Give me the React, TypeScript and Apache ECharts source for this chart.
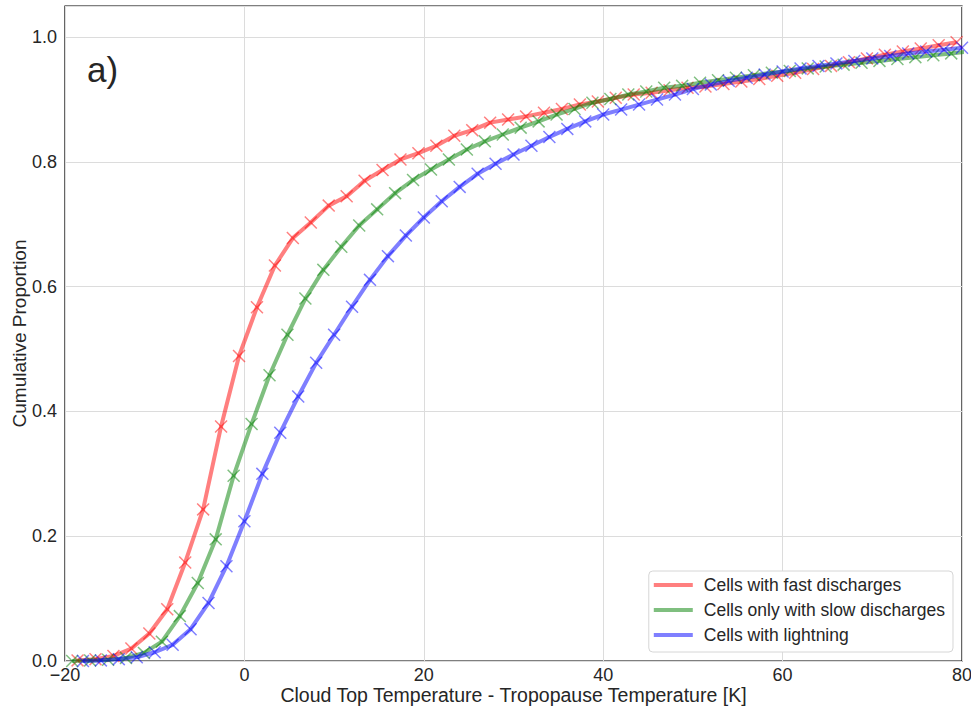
import React, { useEffect, useRef } from "react";
import * as echarts from "echarts";

const FONT = "'Liberation Sans', Arial, sans-serif";

const seriesNames = [
  "Cells with fast discharges",
  "Cells only with slow discharges",
  "Cells with lightning",
];

const fastX = [
  -18.6, -16.6, -14.6, -12.6, -10.6, -8.6, -6.6, -4.6, -2.6, -0.6, 1.4, 3.4, 5.4, 7.4, 9.4, 11.4, 13.4,
  15.4, 17.4, 19.4, 21.4, 23.4, 25.4, 27.4, 29.4, 31.4, 33.4, 35.4, 37.4, 39.4, 41.4, 43.4, 45.4, 47.4,
  49.4, 51.4, 53.4, 55.4, 57.4, 59.4, 61.4, 63.4, 65.4, 67.4, 69.4, 71.4, 73.4, 75.4, 77.4, 79.4,
];
const fastY = [
  0.001, 0.003, 0.008, 0.02, 0.044, 0.083, 0.158, 0.243, 0.376, 0.489, 0.567, 0.634, 0.678, 0.703, 0.73,
  0.745, 0.77, 0.787, 0.804, 0.814, 0.826, 0.842, 0.851, 0.863, 0.868, 0.873, 0.879, 0.885, 0.892, 0.897,
  0.903, 0.908, 0.911, 0.915, 0.919, 0.921, 0.925, 0.929, 0.933, 0.938, 0.943, 0.949, 0.954, 0.96, 0.966,
  0.972, 0.977, 0.982, 0.987, 0.992,
];

const slowX = [
  -19.2, -17.2, -15.2, -13.2, -11.2, -9.2, -7.2, -5.2, -3.2, -1.2, 0.8, 2.8, 4.8, 6.8, 8.8, 10.8, 12.8,
  14.8, 16.8, 18.8, 20.8, 22.8, 24.8, 26.8, 28.8, 30.8, 32.8, 34.8, 36.8, 38.8, 40.8, 42.8, 44.8, 46.8,
  48.8, 50.8, 52.8, 54.8, 56.8, 58.8, 60.8, 62.8, 64.8, 66.8, 68.8, 70.8, 72.8, 74.8, 76.8, 78.8, 80.8,
];
const slowY = [
  0.0, 0.001, 0.002, 0.005, 0.013, 0.031, 0.072, 0.125, 0.195, 0.297, 0.38, 0.458, 0.523, 0.581, 0.627,
  0.664, 0.698, 0.724, 0.75, 0.771, 0.788, 0.804, 0.82, 0.833, 0.844, 0.855, 0.865, 0.876, 0.885, 0.895,
  0.901, 0.908, 0.913, 0.919, 0.922, 0.927, 0.931, 0.935, 0.939, 0.943, 0.946, 0.95, 0.953, 0.956, 0.959,
  0.962, 0.965, 0.968, 0.971, 0.974, 0.977,
];

const lightX = [
  -18, -16, -14, -12, -10, -8, -6, -4, -2, 0, 2, 4, 6, 8, 10, 12, 14, 16, 18, 20, 22, 24, 26, 28, 30, 32,
  34, 36, 38, 40, 42, 44, 46, 48, 50, 52, 54, 56, 58, 60, 62, 64, 66, 68, 70, 72, 74, 76, 78, 80,
];
const lightY = [
  0.0, 0.001, 0.003, 0.006, 0.014, 0.026, 0.051, 0.093, 0.152, 0.224, 0.3, 0.366, 0.424, 0.478, 0.523,
  0.568, 0.611, 0.649, 0.682, 0.711, 0.737, 0.76, 0.781, 0.797, 0.812, 0.826, 0.84, 0.853, 0.865, 0.876,
  0.884, 0.892, 0.9, 0.908, 0.917, 0.924, 0.93, 0.935, 0.94, 0.945, 0.95, 0.954, 0.958, 0.962, 0.966,
  0.97, 0.974, 0.977, 0.98, 0.983,
];

const xTicks = { min: -20, max: 80, interval: 20 };
const yTicks = { min: 0, max: 1.05, interval: 0.2 };

const colors = ["rgba(255,0,0,0.5)", "rgba(0,128,0,0.5)", "rgba(0,0,255,0.5)"];

const X_SYMBOL =
  "path://M0,0.8L0.8,0L5,4.2L9.2,0L10,0.8L5.8,5L10,9.2L9.2,10L5,5.8L0.8,10L0,9.2L4.2,5Z";

function pairs(xs: number[], ys: number[]) {
  return xs.map((x, i) => [x, ys[i]]);
}

export default function App() {
  const ref = useRef<HTMLDivElement>(null);
  useEffect(() => {
    document.body.style.margin = "0";
    const chart = echarts.init(ref.current!, null, { renderer: "svg" });
    const datasets = [pairs(fastX, fastY), pairs(slowX, slowY), pairs(lightX, lightY)];
    chart.setOption({
      animation: false,
      backgroundColor: "#ffffff",
      textStyle: { fontFamily: FONT },
      grid: {
        left: 65,
        right: 9,
        top: 6,
        bottom: 51,
        containLabel: false,
        outerBoundsMode: "none",
        show: true,
        borderColor: "#000000",
        borderWidth: 1.2,
        backgroundColor: "transparent",
      },
      xAxis: {
        type: "value",
        min: xTicks.min,
        max: xTicks.max,
        interval: xTicks.interval,
        name: "Cloud Top Temperature - Tropopause Temperature [K]",
        nameLocation: "middle",
        nameGap: 24,
        nameMoveOverlap: false,
        nameTextStyle: { fontSize: 19.5, lineHeight: 20, color: "#262626", fontFamily: FONT },
        axisLine: { show: false },
        axisTick: { show: false },
        axisLabel: {
          fontSize: 18,
          lineHeight: 18,
          color: "#262626",
          margin: 5,
          fontFamily: FONT,
          formatter: (v: number) => String(v).replace("-", "\u2212"),
        },
        splitLine: { show: true, lineStyle: { color: "#dcdcdc", width: 1 } },
      },
      yAxis: {
        type: "value",
        min: yTicks.min,
        max: yTicks.max,
        interval: yTicks.interval,
        name: "Cumulative Proportion",
        nameLocation: "middle",
        nameGap: 36,
        nameMoveOverlap: false,
        nameTextStyle: { fontSize: 19, color: "#262626", fontFamily: FONT },
        axisLine: { show: false },
        axisTick: { show: false },
        axisLabel: {
          fontSize: 18,
          color: "#262626",
          margin: 8,
          fontFamily: FONT,
          showMaxLabel: false,
          formatter: (v: number) => v.toFixed(1),
        },
        splitLine: { show: true, lineStyle: { color: "#dcdcdc", width: 1 } },
      },
      legend: {
        orient: "vertical",
        right: 18,
        bottom: 60,
        data: seriesNames,
        icon: "rect",
        itemWidth: 39,
        itemHeight: 4,
        itemGap: 7,
        padding: [5, 8, 8, 5],
        backgroundColor: "#ffffff",
        borderColor: "#d6d6d6",
        borderWidth: 1,
        borderRadius: 4,
        itemStyle: { borderWidth: 0 },
        textStyle: {
          fontSize: 17.5,
          color: "#262626",
          fontFamily: FONT,
          lineHeight: 18,
          padding: [0, 0, 0, 6],
        },
      },
      graphic: [
        {
          type: "text",
          left: 87,
          top: 52,
          style: { text: "a)", fontSize: 35, fill: "#262626", fontFamily: FONT },
        },
      ],
      series: datasets.map((d, i) => ({
        name: seriesNames[i],
        type: "line",
        data: d,
        clip: true,
        symbol: X_SYMBOL,
        symbolSize: 13,
        showSymbol: true,
        lineStyle: { color: colors[i], width: 4 },
        itemStyle: { color: colors[i], borderWidth: 0 },
        emphasis: { disabled: true },
        z: 2 + i,
      })),
    });
    return () => chart.dispose();
  }, []);
  return <div ref={ref} style={{ width: 971, height: 712 }} />;
}
